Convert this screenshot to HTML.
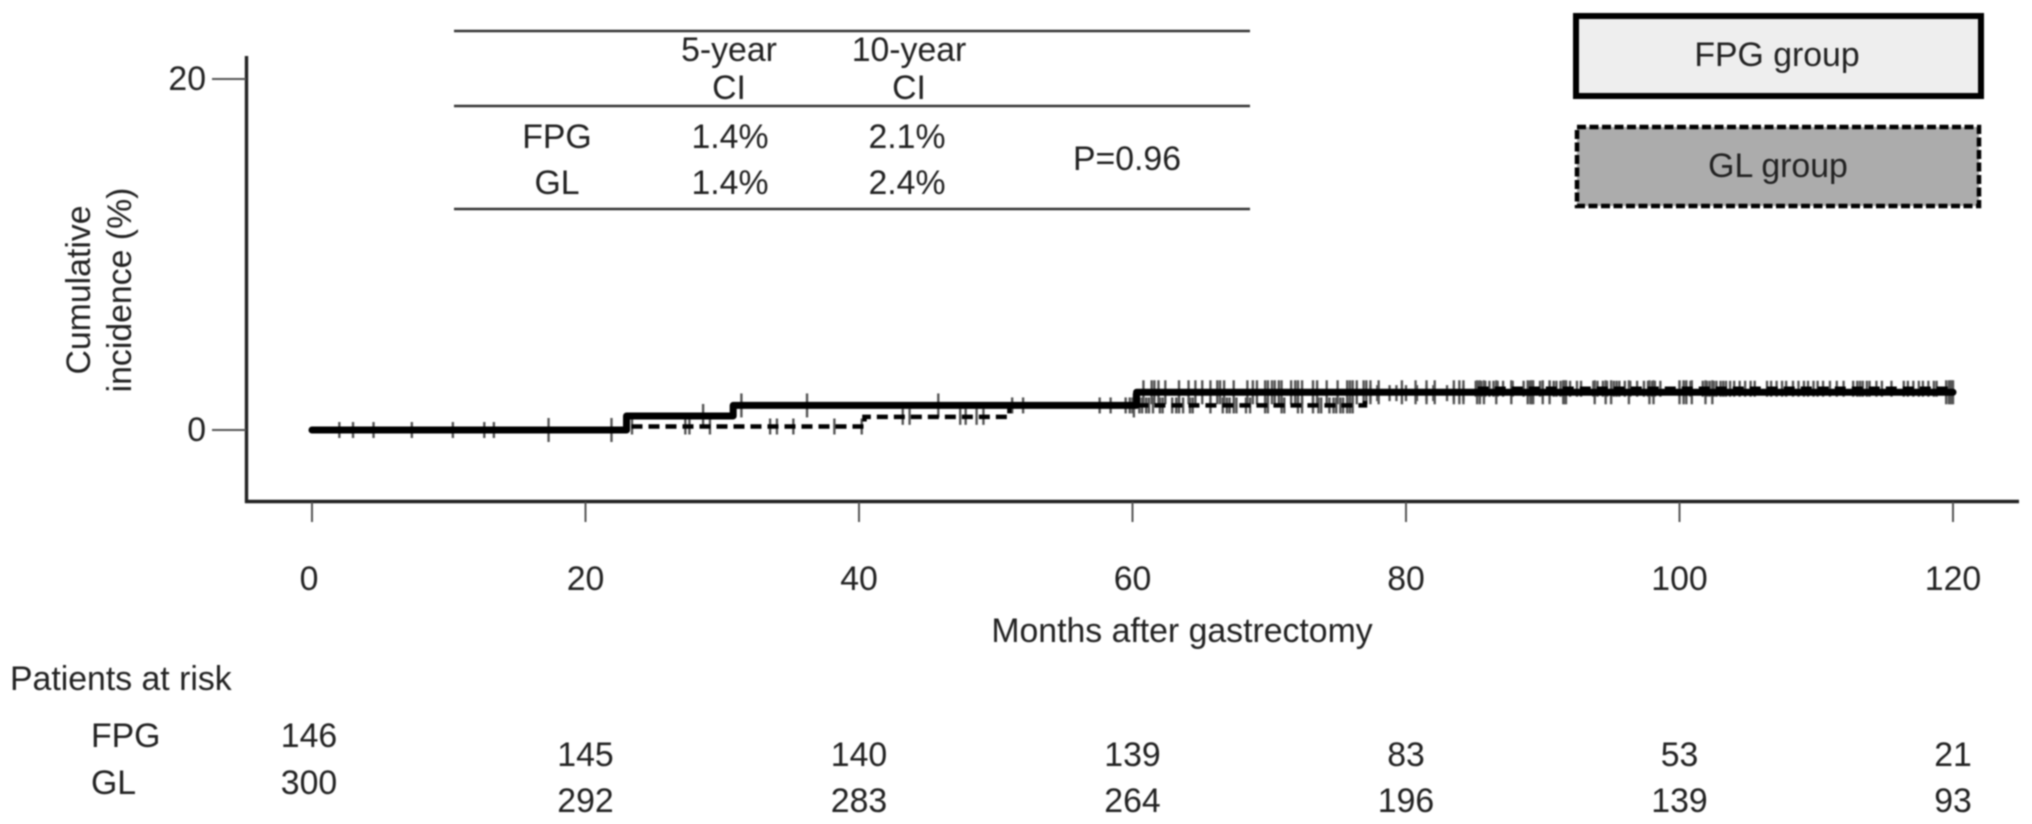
<!DOCTYPE html>
<html lang="en">
<head>
<meta charset="utf-8">
<title>Cumulative incidence chart</title>
<style>
html,body{margin:0;padding:0;background:#fff;width:2032px;height:824px;overflow:hidden}
svg{display:block;filter:blur(0.7px)}
text{font-family:"Liberation Sans",Arial,sans-serif;font-size:33.8px;fill:#222}
</style>
</head>
<body>
<svg id="chart" xmlns="http://www.w3.org/2000/svg" width="2032" height="824" viewBox="0 0 2032 824">
  <rect width="2032" height="824" fill="#fff"/>

  <g>
    <line x1="454" y1="31" x2="1250" y2="31" stroke="#333" stroke-width="2.4"/>
    <line x1="454" y1="106" x2="1250" y2="106" stroke="#333" stroke-width="2.4"/>
    <line x1="454" y1="209" x2="1250" y2="209" stroke="#333" stroke-width="2.4"/>
    <text x="729" y="61" text-anchor="middle">5-year</text>
    <text x="729" y="99" text-anchor="middle">CI</text>
    <text x="909" y="61" text-anchor="middle">10-year</text>
    <text x="909" y="99" text-anchor="middle">CI</text>
    <text x="557" y="148" text-anchor="middle">FPG</text>
    <text x="730" y="148" text-anchor="middle">1.4%</text>
    <text x="907" y="148" text-anchor="middle">2.1%</text>
    <text x="557" y="194" text-anchor="middle">GL</text>
    <text x="730" y="194" text-anchor="middle">1.4%</text>
    <text x="907" y="194" text-anchor="middle">2.4%</text>
    <text x="1127" y="170" text-anchor="middle">P=0.96</text>
  </g>

  <g>
    <rect x="1576" y="16" width="405" height="80" fill="#eeeeee" stroke="#000" stroke-width="6"/>
    <text x="1777" y="66" text-anchor="middle">FPG group</text>
    <rect x="1577" y="127" width="402" height="79" fill="#acacac" stroke="#000" stroke-width="4.5" stroke-dasharray="9 3.5"/>
    <text x="1778" y="177" text-anchor="middle">GL group</text>
  </g>

  <g id="marks"></g>

  <g id="axes">
    <line x1="246.5" y1="56" x2="246.5" y2="503" stroke="#222" stroke-width="3.4"/>
    <line x1="245" y1="501.5" x2="2019" y2="501.5" stroke="#222" stroke-width="3.4"/>
  </g>

  <text transform="translate(90,290) rotate(-90)" text-anchor="middle">Cumulative</text>
  <text transform="translate(131,290) rotate(-90)" text-anchor="middle">incidence (%)</text>
  <text x="1182" y="642" text-anchor="middle">Months after gastrectomy</text>

  <text x="10" y="690">Patients at risk</text>
  <text x="91" y="747">FPG</text>
  <text x="91" y="794">GL</text>
  <g id="risk"></g>
</svg>

<script>
const xTicks = [0, 20, 40, 60, 80, 100, 120];
const yTicks = [0, 20];

const fpgStepTimes = [0, 23, 30.8, 60.3, 120];
const fpgStepValues = [0, 0.8, 1.4, 2.15, 2.15];
const glStepTimes = [0, 23.2, 40.4, 51, 77, 85, 120];
const glStepValues = [0, 0.2, 0.75, 1.4, 2.1, 2.35, 2.35];

const fpgCensored = [17.3, 21.9, 28.6, 31.4, 36.2, 45.8,
  60.1, 60.8, 61.4, 61.6, 61.9, 62.4, 63.4, 64.1, 64.6, 65.1, 65.7, 66.2, 66.4, 66.7, 67.4,
  68.4, 68.8, 69.1, 69.7, 69.9, 70.2, 70.4, 70.7, 70.9, 71.6, 71.9, 72.1, 72.4, 73.2, 73.5,
  74.2, 75, 75.7, 75.9, 76.1, 76.4, 76.9, 77.1, 77.4, 78, 79.7, 80.7, 81.5, 82.1, 83.5, 83.9,
  84.2, 85.2, 85.4, 85.7, 86.6, 87.7, 88.9, 89.1, 89.2, 89.3, 90, 90.5, 91.5, 91.6, 91.7,
  93.8, 94.6, 95, 96.3, 97.8, 98.1, 100, 100.3, 100.5, 100.9, 101.9, 102.4,
  119.5, 119.7, 119.8, 119.9, 120];

const glCensored = [2, 3, 4.5, 7.3, 10.3, 12.6, 13.3, 23.4, 27.3, 27.6, 29.1, 33.5, 34, 35.2,
  38.2, 40.2, 43.2, 43.7, 47.4, 47.8, 48.6, 49.1, 51.2, 52, 57.6, 58.4, 59.5, 59.8, 60,
  60.5, 60.7, 61, 61.2, 61.5, 62, 62.2, 62.9, 63.2, 63.4, 63.7, 64.2, 64.4, 65.7, 66.6, 66.9,
  67.1, 67.4, 67.6, 68.3, 68.6, 69.7, 69.9, 70.9, 71.1, 72.1, 72.4, 73.2, 73.6, 73.8, 74.4,
  74.7, 74.9, 75.2, 75.4, 75.7, 75.9, 76.1, 77.4, 77.9, 78.8, 79.3, 80, 80.8, 81.5, 82, 83,
  83.5, 84.2, 85.1, 85.3, 85.5, 85.8, 86.1, 86.4, 86.7, 87.1, 87.8, 88.6, 89, 89.2, 89.8, 90,
  90.5, 90.8, 91, 91.3, 91.5, 91.7, 92, 92.5, 92.8, 93.7, 94, 94.4, 94.7, 95.2, 95.4, 95.6,
  96, 96.4, 96.9, 97.4, 97.7, 98, 98.2, 98.6, 100, 100.3, 100.5, 100.8, 101.7, 102, 102.2,
  102.5, 102.7, 103, 103.2, 103.4, 103.7, 104, 104.4, 104.8, 105.2, 105.5, 106.4, 106.7,
  107.1, 107.5, 107.8, 108.3, 108.7, 109.1, 109.4, 109.8, 110.1, 110.5, 111, 111.5, 112,
  112.7, 113, 113.2, 113.4, 113.7, 113.9, 114.4, 114.8, 115.5, 116.4, 116.7, 117.1, 117.5,
  117.8, 118.2, 118.6, 118.8];

const riskFpg = [146, 145, 140, 139, 83, 53, 21];
const riskGl = [300, 292, 283, 264, 196, 139, 93];

const SVG_NS = 'http://www.w3.org/2000/svg';
const xScale = m => 312 + m * (1953 - 312) / 120;
const yScale = v => 430 - v * (430 - 79) / 20;

function stepAt(times, values, t) {
  let result = values[0];
  for (let i = 0; i < times.length; i++) {
    if (times[i] <= t) result = values[i];
  }
  return result;
}

function stepPath(times, values) {
  let d = 'M' + xScale(times[0]) + ' ' + yScale(values[0]);
  for (let i = 1; i < times.length; i++) {
    d += 'H' + xScale(times[i]) + 'V' + yScale(values[i]);
  }
  return d;
}

function make(tag, props, parent) {
  const el = document.createElementNS(SVG_NS, tag);
  Object.keys(props).forEach(k => el.setAttribute(k, props[k]));
  parent.appendChild(el);
  return el;
}

const axes = document.getElementById('axes');
const marks = document.getElementById('marks');
const risk = document.getElementById('risk');

xTicks.forEach((t, i) => {
  const tick = make('line', {x1: xScale(t), x2: xScale(t), y1: 502, y2: 522, stroke: '#555', 'stroke-width': 2}, axes);
  
  
  const label = make('text', {x: xScale(t) - (i === 0 ? 3 : 0), y: 590, 'text-anchor': 'middle'}, axes);
  label.textContent = t;
  
  
});

yTicks.forEach(v => {
  const tick = make('line', {x1: 212, x2: 246, y1: yScale(v), y2: yScale(v), stroke: '#555', 'stroke-width': 2}, axes);
  
  
  const label = make('text', {x: 206, y: yScale(v) + 11, 'text-anchor': 'end'}, axes);
  label.textContent = v;
  
  
});

glCensored.forEach(t => {
  const y = yScale(stepAt(glStepTimes, glStepValues, t));
  const mark = make('line', {x1: xScale(t), x2: xScale(t), y1: y - 8, y2: y + 8, stroke: '#555', 'stroke-width': 2.4}, marks);
  
  
});

fpgCensored.forEach(t => {
  const y = yScale(stepAt(fpgStepTimes, fpgStepValues, t));
  const mark = make('line', {x1: xScale(t), x2: xScale(t), y1: y - 12, y2: y + 12, stroke: '#555', 'stroke-width': 2.4}, marks);
  
  
});

const glLine = make('path', {d: stepPath(glStepTimes, glStepValues), fill: 'none', stroke: '#000', 'stroke-width': 4.5, 'stroke-dasharray': '11 6'}, marks);



const fpgLine = make('path', {d: stepPath(fpgStepTimes, fpgStepValues), fill: 'none', stroke: '#000', 'stroke-width': 7, 'stroke-linecap': 'round', 'stroke-linejoin': 'round'}, marks);



riskFpg.forEach((n, i) => {
  const cell = make('text', {x: xScale(xTicks[i]) - (i === 0 ? 3 : 0), y: i === 0 ? 747 : 766, 'text-anchor': 'middle'}, risk);
  cell.textContent = n;
  
  
});

riskGl.forEach((n, i) => {
  const cell = make('text', {x: xScale(xTicks[i]) - (i === 0 ? 3 : 0), y: i === 0 ? 794 : 812, 'text-anchor': 'middle'}, risk);
  cell.textContent = n;
  
  
});
</script>
</body>
</html>
